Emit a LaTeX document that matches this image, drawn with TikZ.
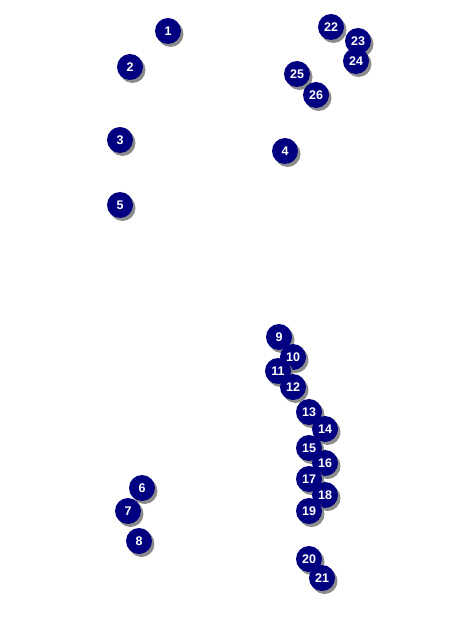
\documentclass[tikz,border=0pt]{standalone}
\usepackage{fontspec}
\setsansfont{Liberation Sans}
\usepackage{tikz}
\usetikzlibrary{shadows}
\definecolor{markfill}{HTML}{000080}
\definecolor{markshade}{HTML}{808080}

\begin{document}
\begin{tikzpicture}[x=1pt, y=-1pt,
  marker/.style={circle, fill=markfill, minimum size=26pt, inner sep=0pt,
    text=white, font=\fontsize{12.5}{14}\selectfont\sffamily\bfseries,
    drop shadow={shadow xshift=2.5pt, shadow yshift=-3pt, fill=markshade, opacity=0.9}}
]
  \useasboundingbox (0,0) rectangle (468,636);

  % upper left group
  \node[marker] (m1) at (168,31) {1};
  \node[marker] (m2) at (130,67) {2};
  \node[marker] (m3) at (120,140) {3};
  \node[marker] (m4) at (285,151) {4};
  \node[marker] (m5) at (120,205) {5};

  % lower left group
  \node[marker] (m6) at (142,488) {6};
  \node[marker] (m7) at (128,511) {7};
  \node[marker] (m8) at (139,541) {8};

  % right column
  \node[marker] (m9) at (279,337) {9};
  \node[marker] (m10) at (293,357) {10};
  \node[marker] (m11) at (278,371) {11};
  \node[marker] (m12) at (293,387) {12};
  \node[marker] (m13) at (309,412) {13};
  \node[marker] (m14) at (325,429) {14};
  \node[marker] (m15) at (309,448) {15};
  \node[marker] (m16) at (325,463) {16};
  \node[marker] (m17) at (309,479) {17};
  \node[marker] (m18) at (325,495) {18};
  \node[marker] (m19) at (309,511) {19};
  \node[marker] (m20) at (309,559) {20};
  \node[marker] (m21) at (322,578) {21};

  % upper right group
  \node[marker] (m22) at (331,27) {22};
  \node[marker] (m23) at (358,41) {23};
  \node[marker] (m24) at (356,61) {24};
  \node[marker] (m25) at (297,74) {25};
  \node[marker] (m26) at (316,95) {26};
\end{tikzpicture}
\end{document}
